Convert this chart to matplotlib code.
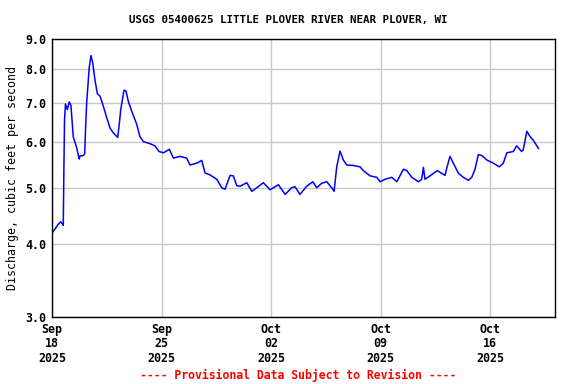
import numpy as np
import pandas as pd
import matplotlib
matplotlib.use("Agg")
import matplotlib.pyplot as plt

# Discharge: days after Sep 18 2025 00:00, cfs
days = [0.0, 0.2, 0.4, 0.55, 0.68, 0.72, 0.76, 0.80, 0.86, 0.98, 1.10, 1.21,
        1.36, 1.47, 1.58, 1.74, 1.79, 2.0, 2.09, 2.15, 2.22, 2.38, 2.49, 2.60,
        2.75, 2.90, 3.07, 3.28, 3.50, 3.71, 3.92, 4.20, 4.30, 4.39, 4.60, 4.73,
        4.88, 5.10, 5.41, 5.62, 5.84, 6.27, 6.58, 6.84, 7.12, 7.50, 7.76, 8.18,
        8.61, 8.82, 9.25, 9.57, 9.78, 10.10, 10.53, 10.85, 11.06, 11.38, 11.59,
        11.81, 12.02, 12.45, 12.77, 13.09, 13.51, 13.94, 14.47, 14.90, 15.32,
        15.53, 15.85, 16.28, 16.67, 16.92, 17.24, 17.56, 17.88, 18.03, 18.20,
        18.41, 18.62, 18.84, 19.26, 19.69, 19.90, 20.33, 20.76, 20.97, 21.29,
        21.72, 22.04, 22.46, 22.68, 23.0, 23.42, 23.63, 23.74, 23.84, 24.16,
        24.63, 25.12, 25.23, 25.44, 25.65, 25.97, 26.29, 26.61, 26.83, 27.04,
        27.25, 27.47, 27.79, 28.21, 28.59, 28.85, 29.07, 29.49, 29.70, 30.02,
        30.12, 30.24, 30.35, 30.56, 30.77, 31.09]
flow = [4.18, 4.25, 4.33, 4.37, 4.33, 4.31, 5.40, 6.54, 6.96, 6.81, 7.02, 6.92,
        6.11, 5.98, 5.85, 5.60, 5.67, 5.68, 5.72, 6.38, 7.03, 8.04, 8.43, 8.20,
        7.64, 7.25, 7.18, 6.90, 6.59, 6.33, 6.21, 6.10, 6.43, 6.80, 7.35, 7.33,
        7.03, 6.76, 6.43, 6.12, 6.00, 5.95, 5.90, 5.77, 5.74, 5.82, 5.62, 5.66,
        5.62, 5.47, 5.51, 5.57, 5.30, 5.26, 5.17, 5.00, 4.97, 5.25, 5.24,
        5.04, 5.03, 5.10, 4.93, 5.00, 5.10, 4.96, 5.06, 4.87, 5.00,
        5.02, 4.87, 5.03, 5.12, 5.00, 5.09, 5.12, 5.00, 4.93, 5.43,
        5.78, 5.58, 5.47, 5.46, 5.43, 5.35, 5.24, 5.21, 5.12, 5.17,
        5.21, 5.12, 5.38, 5.35, 5.21, 5.12, 5.17, 5.42, 5.17, 5.24,
        5.35, 5.25, 5.40, 5.66, 5.51, 5.30, 5.21, 5.15, 5.21, 5.38,
        5.70, 5.68, 5.58, 5.51, 5.43, 5.51, 5.74, 5.77, 5.90, 5.77,
        5.81, 6.03, 6.25, 6.12, 6.03, 5.84]

y_ticks = [3.0, 4.0, 5.0, 6.0, 7.0, 8.0, 9.0]
x_ticks = ["2025-09-18", "2025-09-25", "2025-10-02", "2025-10-09", "2025-10-16"]

start = pd.Timestamp("2025-09-18")
times = start + pd.to_timedelta(days, unit="D")

plt.rcParams["font.family"] = "DejaVu Sans Mono"
plt.rcParams["font.weight"] = "bold"

fig = plt.figure(figsize=(5.76, 3.84), dpi=100)
ax = fig.add_axes([0.0903, 0.1745, 0.8732, 0.7239])

ax.plot(times, flow, color="#0000ff", linewidth=1.1)

ax.set_yscale("log")
ax.set_ylim(3.0, 9.0)
ax.set_yticks(y_ticks)
ax.set_yticklabels(["%.1f" % v for v in y_ticks])
ax.yaxis.set_minor_locator(matplotlib.ticker.NullLocator())

ax.set_xlim(start, start + pd.Timedelta(days=32.15))
tick_dates = pd.to_datetime(x_ticks)
ax.set_xticks(tick_dates)
ax.set_xticklabels([d.strftime("%b\n%d\n%Y") for d in tick_dates],
                   linespacing=1.15)
ax.xaxis.set_minor_locator(matplotlib.ticker.NullLocator())

ax.tick_params(axis="both", length=0, labelsize=8.4, pad=4)
ax.grid(True, color="#c8c8c8", linewidth=1.0)
ax.set_axisbelow(True)
for s in ax.spines.values():
    s.set_color("black")
    s.set_linewidth(1.0)

ax.set_ylabel("Discharge, cubic feet per second", fontsize=8.4, labelpad=5)
fig.text(0.5, 0.948, "USGS 05400625 LITTLE PLOVER RIVER NEAR PLOVER, WI",
         ha="center", va="center", fontsize=7.8, fontweight="bold")
fig.text(0.517, 0.023, "---- Provisional Data Subject to Revision ----",
         ha="center", va="center", fontsize=8.3, fontweight="bold", color="red")

fig.savefig("out.png", dpi=100)
